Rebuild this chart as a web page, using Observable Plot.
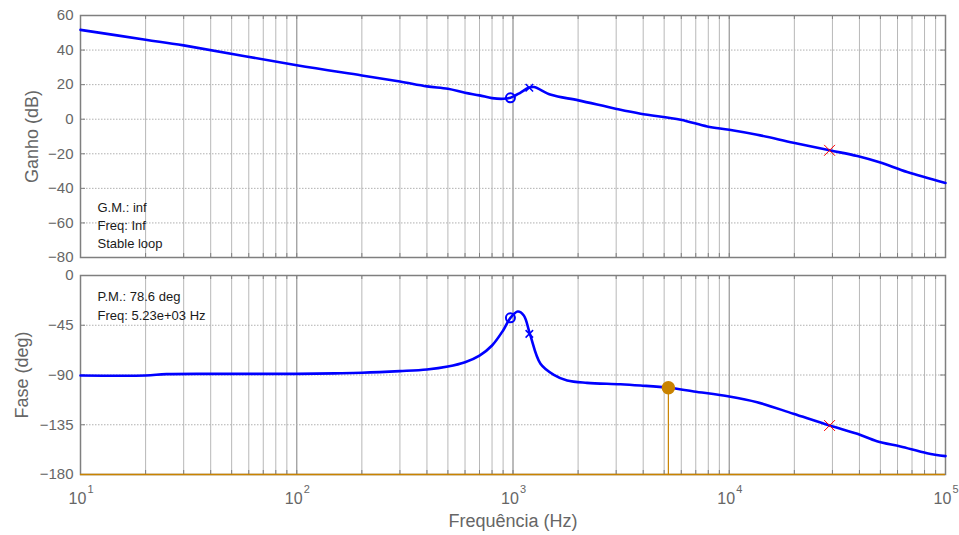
<!DOCTYPE html>
<html><head><meta charset="utf-8">
<script src="https://cdn.jsdelivr.net/npm/d3@7"></script>
<script src="https://cdn.jsdelivr.net/npm/@observablehq/plot@0.6"></script>
<style>
body{margin:0;background:#fff;font-family:"Liberation Sans",Arial,sans-serif;}
#chart{width:959px;height:535px;}
#chart svg{display:block;}
</style></head>
<body><div id="chart"></div>
<script>
// ---- data ----
const freqMag = [10,20,30,100,200,300,400,500,600,700,800,900,973,1080,1180,1250,1500,2010,2980,3890,5960,7910,10000,13460,19800,29100,39100,50000,66500,100000];
const gainDb  = [51.7,46.0,42.7,31.2,25.3,21.8,19.0,17.6,15.3,13.8,12.2,11.8,12.4,15.3,18.2,18.6,14.1,10.9,6.1,3.2,-0.3,-4.2,-6.1,-9.0,-13.6,-18.0,-21.3,-25.1,-30.6,-36.9];
const freqPhase = [10,20,25,50,100,150,200,300,400,500,600,700,800,900,973,1052,1122,1197,1340,1545,1780,2200,3140,3890,5250,6860,10000,13460,19800,29100,39100,48200,61900,82200,100000];
const phaseDeg  = [-90.4,-90.4,-89.2,-89.0,-89.0,-88.5,-88.0,-86.5,-85.0,-82.3,-78.4,-72.4,-63.3,-49.7,-38.3,-32.6,-36.2,-52.8,-79.9,-89.9,-95.0,-97.1,-98.3,-99.5,-101.6,-104.9,-109.4,-114.6,-125.1,-135.7,-143.2,-149.9,-154.7,-160.7,-163.4];

// markers
const circleFreq = 973, circleGain = 12.4, circlePhase = -38.3;
const crossFreq = 1190, crossGain = 18.2, crossPhase = -52.8;
const redFreq = 29100, redGain = -18.0, redPhase = -135.7;
const pmFreq = 5230, pmPhase = -101.6, phaseFloor = -180;

// ticks & labels
const gainTicks = [-80,-60,-40,-20,0,20,40,60];
const phaseTicks = [-180,-135,-90,-45,0];
const decades = [10,100,1000,10000,100000];
const decadeExp = ["1","2","3","4","5"];
const gmText = ["G.M.: inf","Freq: Inf","Stable loop"];
const pmText = ["P.M.: 78.6 deg","Freq: 5.23e+03 Hz"];
const gainLabel = "Ganho (dB)", phaseLabel = "Fase (deg)", freqLabel = "Frequência (Hz)";

(function(){
const minorTicks = [];
for (const d of [10,100,1000,10000]) for (let k=1;k<10;k++) minorTicks.push(d*k);
minorTicks.push(100000);

const magRows = freqMag.map((f,i)=>({f, v:gainDb[i]}));
const phRows = freqPhase.map((f,i)=>({f, v:phaseDeg[i]}));

const W = 959, ML = 80, MR = 14;
const PW = W - ML - MR;
const blue = "#0000ff", orange = "#c98300", gray = "#666", box = "#7f7f7f";
const font = "Liberation Sans, Arial, sans-serif";

function common(yTicks, label, H, labelDx){
  return [
    Plot.gridX(minorTicks, {stroke:"#b8b8b8", strokeOpacity:1, strokeWidth:1}),
    Plot.gridX(decades, {stroke:"#9a9a9a", strokeOpacity:1, strokeWidth:1}),
    Plot.gridY(yTicks, {stroke:"#b0b0b0", strokeOpacity:1, strokeDasharray:"1.5,1.5"}),
    Plot.tickY(yTicks, {y:d=>d, stroke:box, insetRight:PW-5}),
    Plot.tickY(yTicks, {y:d=>d, stroke:box, insetLeft:PW-5}),
    Plot.tickX(minorTicks, {x:d=>d, stroke:box, insetBottom:H-4}),
    Plot.tickX(minorTicks, {x:d=>d, stroke:box, insetTop:H-4}),
    Plot.axisY(yTicks, {tickSize:0, tickPadding:7, fontSize:15, color:gray, label:null, fill:gray}),
    Plot.text([label], {frameAnchor:"left", rotate:-90, dx:labelDx, fontSize:18, fill:gray, textAnchor:"middle"}),
  ];
}

const topPlot = Plot.plot({
  width:W, height:265, marginLeft:ML, marginRight:MR, marginTop:15, marginBottom:8,
  style:{fontFamily:font, background:"transparent"},
  x:{type:"log", domain:[10,1e5], axis:null},
  y:{domain:[-80,60], axis:null},
  marks:[
    ...common(gainTicks, gainLabel, 242, -48),
    Plot.frame({stroke:box, strokeWidth:1.5}),
    Plot.line(magRows, {x:"f", y:"v", stroke:blue, strokeWidth:2.6, curve:"catmull-rom"}),
    Plot.dot([{f:circleFreq, v:circleGain}], {x:"f", y:"v", r:4.5, stroke:blue, strokeWidth:2, fill:"white", fillOpacity:0}),
    Plot.dot([{f:crossFreq, v:crossGain}], {x:"f", y:"v", symbol:"times", r:3.5, stroke:blue, strokeWidth:1.5}),
    Plot.dot([{f:redFreq, v:redGain}], {x:"f", y:"v", symbol:"times", r:5, stroke:"red", strokeWidth:1}),
    Plot.text([gmText.join("\n")], {frameAnchor:"top-left", lineAnchor:"top", textAnchor:"start", dx:17, dy:184, fontSize:13, lineHeight:18/13, fill:"#1a1a1a"})
  ]
});

const botPlot = Plot.plot({
  width:W, height:270, marginLeft:ML, marginRight:MR, marginTop:10, marginBottom:61,
  style:{fontFamily:font, background:"transparent"},
  x:{type:"log", domain:[10,1e5], axis:null},
  y:{domain:[-180,0], axis:null},
  marks:[
    ...common(phaseTicks, phaseLabel, 199, -58),
    Plot.frame({stroke:box, strokeWidth:1.5}),
    Plot.ruleY([phaseFloor], {stroke:orange, strokeWidth:1.5}),
    Plot.ruleX([pmFreq], {y1:pmPhase, y2:phaseFloor, stroke:orange, strokeWidth:1.2}),
    Plot.line(phRows, {x:"f", y:"v", stroke:blue, strokeWidth:2.6, curve:"catmull-rom"}),
    Plot.dot([{f:pmFreq, v:pmPhase}], {x:"f", y:"v", r:6, fill:orange, stroke:orange}),
    Plot.dot([{f:circleFreq, v:circlePhase}], {x:"f", y:"v", r:4.5, stroke:blue, strokeWidth:2, fill:"white", fillOpacity:0}),
    Plot.dot([{f:crossFreq, v:crossPhase}], {x:"f", y:"v", symbol:"times", r:3.5, stroke:blue, strokeWidth:1.5}),
    Plot.dot([{f:redFreq, v:redPhase}], {x:"f", y:"v", symbol:"times", r:5, stroke:"red", strokeWidth:1}),
    Plot.text([pmText.join("\n")], {frameAnchor:"top-left", lineAnchor:"top", textAnchor:"start", dx:17, dy:12, fontSize:13, lineHeight:19/13, fill:"#1a1a1a"}),
    Plot.text(decades, {x:d=>d, frameAnchor:"bottom", text:()=>"10", dx:-3, dy:29, lineAnchor:"bottom", fontSize:16, fill:gray}),
    Plot.text(decades, {x:d=>d, frameAnchor:"bottom", text:(d,i)=>decadeExp[i], dx:7, dy:18, lineAnchor:"bottom", textAnchor:"start", fontSize:11, fill:gray}),
    Plot.text([freqLabel], {frameAnchor:"bottom", dy:52, lineAnchor:"bottom", fontSize:18, fill:gray})
  ]
});

const el = document.getElementById("chart");
el.appendChild(topPlot);
el.appendChild(botPlot);
})();
</script>
</body></html>
